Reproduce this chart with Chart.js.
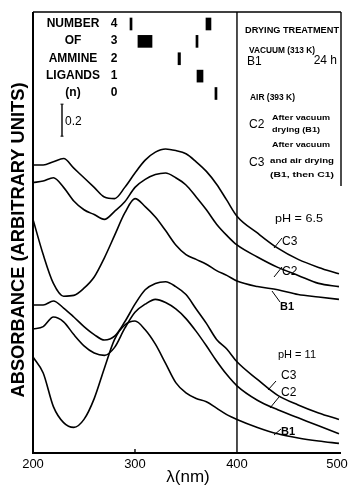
<!DOCTYPE html>
<html>
<head>
<meta charset="utf-8">
<title>Absorbance spectra</title>
<script src="https://cdn.jsdelivr.net/npm/chart.js@4.4.0/dist/chart.umd.min.js"></script>
<style>
  html, body { margin: 0; padding: 0; background: #fff; }
  #wrap { width: 350px; height: 485px; }
</style>
</head>
<body>
<div id="wrap"><canvas id="spectra" width="350" height="485"></canvas></div>
<script>
// wavelength grid (nm) shared by all spectra
const wavelengths = [200, 210, 220, 230, 240, 250, 260, 270, 280, 290, 300, 310, 320, 330, 340, 350, 360, 370, 380, 390, 400, 420, 440, 460, 480, 500];

// pH 6.5 spectra (arbitrary absorbance, offset)
const ph65C3 = [1.80, 1.80, 1.82, 1.84, 1.78, 1.72, 1.66, 1.60, 1.59, 1.66, 1.75, 1.83, 1.88, 1.90, 1.89, 1.87, 1.82, 1.76, 1.68, 1.58, 1.48, 1.375, 1.28, 1.21, 1.16, 1.12];
const ph65C2 = [1.69, 1.70, 1.72, 1.66, 1.575, 1.52, 1.49, 1.46, 1.51, 1.57, 1.66, 1.71, 1.74, 1.75, 1.72, 1.675, 1.60, 1.52, 1.43, 1.36, 1.30, 1.225, 1.16, 1.11, 1.06, 1.04];
const ph65B1 = [1.46, 1.24, 1.06, 0.98, 0.985, 1.03, 1.10, 1.22, 1.36, 1.50, 1.59, 1.54, 1.475, 1.39, 1.30, 1.24, 1.21, 1.18, 1.14, 1.11, 1.075, 1.04, 1.02, 0.99, 0.975, 0.96];

// pH 11 spectra
const ph11C3 = [0.925, 0.925, 0.95, 0.906, 0.85, 0.79, 0.74, 0.706, 0.73, 0.82, 0.93, 1.02, 1.06, 1.07, 1.04, 0.99, 0.90, 0.81, 0.71, 0.65, 0.57, 0.46, 0.36, 0.30, 0.25, 0.21];
const ph11C2 = [0.775, 0.79, 0.85, 0.82, 0.74, 0.67, 0.625, 0.61, 0.66, 0.78, 0.88, 0.93, 0.96, 0.94, 0.90, 0.84, 0.76, 0.67, 0.575, 0.49, 0.42, 0.33, 0.27, 0.22, 0.17, 0.12];
const ph11B1 = [0.60, 0.50, 0.29, 0.19, 0.16, 0.21, 0.34, 0.53, 0.71, 0.80, 0.825, 0.77, 0.68, 0.56, 0.44, 0.375, 0.34, 0.32, 0.28, 0.24, 0.21, 0.16, 0.12, 0.094, 0.075, 0.06];

// band positions for complexes with n ammine ligands (nm)
const ligandN = [4, 4, 3, 3, 2, 1, 0];
const bandFrom = [295.1, 369.6, 302.9, 359.8, 342.2, 360.8, 378.4];
const bandTo = [297.1, 374.5, 316.7, 361.8, 344.6, 366.7, 380.4];

const xTicks = [200, 300, 400, 500];
const scaleBarSize = 0.2;

const FONT = '"Liberation Sans", Arial, sans-serif';

function curve(values) {
  return {
    type: 'line',
    data: wavelengths.map((w, i) => ({ x: w, y: values[i] })),
    borderColor: '#000',
    borderWidth: 1.6,
    pointRadius: 0,
    cubicInterpolationMode: 'monotone',
    fill: false,
    xAxisID: 'x',
    yAxisID: 'y'
  };
}

function text(ctx, s, x, y, size, opt) {
  opt = opt || {};
  ctx.save();
  ctx.font = (opt.weight || 'bold') + ' ' + size + 'px ' + FONT;
  ctx.textBaseline = 'middle';
  ctx.textAlign = opt.align || 'left';
  ctx.translate(x, y);
  if (opt.rotate) ctx.rotate(opt.rotate);
  if (opt.width) {
    const w = ctx.measureText(s).width;
    ctx.scale(opt.width / w, 1);
  }
  ctx.fillText(s, 0, 0);
  ctx.restore();
}

function seg(ctx, x1, y1, x2, y2, lw) {
  ctx.lineWidth = lw || 1.2;
  ctx.beginPath();
  ctx.moveTo(x1, y1);
  ctx.lineTo(x2, y2);
  ctx.stroke();
}

const decorations = {
  id: 'decorations',
  afterDatasetsDraw(chart) {
    const ctx = chart.ctx;
    const xs = chart.scales.x, ys = chart.scales.y;
    const a = chart.chartArea;
    ctx.save();
    ctx.strokeStyle = '#000';
    ctx.fillStyle = '#000';
    ctx.lineCap = 'butt';

    // frame: axes, top edge, 400 nm divider, legend box edge
    seg(ctx, a.left, a.top, a.left, a.bottom, 2);
    seg(ctx, a.left - 1, a.bottom, a.right, a.bottom, 2);
    seg(ctx, a.left, a.top, a.right, a.top, 1.4);
    seg(ctx, xs.getPixelForValue(400), a.top, xs.getPixelForValue(400), a.bottom, 1.4);
    seg(ctx, a.right, a.top, a.right, 186, 1.4);
    seg(ctx, xs.getPixelForValue(300), a.bottom, xs.getPixelForValue(300), a.bottom - 4, 1.4);

    // x tick labels and title
    xTicks.forEach(t => text(ctx, String(t), Math.min(xs.getPixelForValue(t), 337), a.bottom + 11, 13, { align: 'center', weight: 'normal' }));
    text(ctx, 'λ(nm)', 188, 477, 17, { align: 'center', weight: 'normal' });

    // y title
    text(ctx, 'ABSORBANCE (ARBITRARY UNITS)', 19, 240, 18, { align: 'center', rotate: -Math.PI / 2, width: 315 });

    // ligand table
    const rows = chart.scales.rows;
    const words = ['NUMBER', 'OF', 'AMMINE', 'LIGANDS', '(n)'];
    [4, 3, 2, 1, 0].forEach((n, i) => {
      const y = rows.getPixelForValue(n) - 0.5;
      text(ctx, words[i], 73, y, 12, { align: 'center' });
      text(ctx, String(n), 114, y, 12, { align: 'center' });
    });

    // 0.2 absorbance scale bar
    const sbTop = ys.getPixelForValue(2.18);
    const sbBot = ys.getPixelForValue(2.18 - scaleBarSize);
    seg(ctx, 62, sbTop, 62, sbBot, 1.4);
    seg(ctx, 60.5, sbTop, 63.5, sbTop, 1);
    seg(ctx, 60.5, sbBot, 63.5, sbBot, 1);
    text(ctx, '0.2', 65, 122, 12, { weight: 'normal' });

    // drying treatment legend
    text(ctx, 'DRYING TREATMENT', 245, 31, 9, { width: 94 });
    text(ctx, 'VACUUM (313 K)', 249, 51, 8.5, { width: 66 });
    text(ctx, 'B1', 247, 62, 12, { weight: 'normal' });
    text(ctx, '24 h', 337, 61, 12, { weight: 'normal', align: 'right' });
    text(ctx, 'AIR (393 K)', 250, 98, 8.5, { width: 45 });
    text(ctx, 'C2', 249, 125, 12, { weight: 'normal' });
    text(ctx, 'After vacuum', 272, 118, 7.5, { width: 58 });
    text(ctx, 'drying (B1)', 272, 130, 7.5, { width: 48 });
    text(ctx, 'After vacuum', 272, 145, 7.5, { width: 58 });
    text(ctx, 'C3', 249, 163, 12, { weight: 'normal' });
    text(ctx, 'and air drying', 270, 161, 7.5, { width: 64 });
    text(ctx, '(B1, then C1)', 270, 175, 7.5, { width: 64 });

    // curve labels with leader lines
    text(ctx, 'pH = 6.5', 275, 219, 11, { weight: 'normal', width: 48 });
    text(ctx, 'C3', 282, 242, 12, { weight: 'normal' });
    seg(ctx, 274, 248, 282, 238, 1);
    text(ctx, 'C2', 282, 272, 12, { weight: 'normal' });
    seg(ctx, 274, 277, 282, 267, 1);
    text(ctx, 'B1', 280, 307, 11);
    seg(ctx, 272, 291, 280, 302, 1);

    text(ctx, 'pH = 11', 278, 355, 11, { weight: 'normal', width: 38 });
    text(ctx, 'C3', 281, 376, 12, { weight: 'normal' });
    seg(ctx, 268, 390, 276, 381, 1);
    text(ctx, 'C2', 281, 393, 12, { weight: 'normal' });
    seg(ctx, 270, 408, 279, 397, 1);
    text(ctx, 'B1', 281, 432, 11);
    seg(ctx, 274, 435, 281, 429, 1);

    ctx.restore();
  }
};

new Chart(document.getElementById('spectra'), {
  type: 'line',
  data: {
    datasets: [
      curve(ph65C3), curve(ph65C2), curve(ph65B1),
      curve(ph11C3), curve(ph11C2), curve(ph11B1),
      {
        type: 'bar',
        indexAxis: 'y',
        xAxisID: 'x',
        yAxisID: 'rows',
        data: ligandN.map((n, i) => ({ x: [bandFrom[i], bandTo[i]], y: n })),
        backgroundColor: '#000',
        borderWidth: 0,
        barThickness: 12,
        grouped: false
      }
    ]
  },
  options: {
    responsive: false,
    animation: false,
    devicePixelRatio: 1,
    layout: { padding: { left: 33, right: 9, top: 12, bottom: 32 } },
    plugins: { legend: { display: false }, tooltip: { enabled: false } },
    scales: {
      x: { type: 'linear', min: 200, max: 502, display: false, offset: false },
      y: { type: 'linear', min: 0, max: 2.756, display: false },
      // second vertical axis that places the ligand-number rows
      rows: { type: 'linear', axis: 'y', position: 'left', min: -20.69, max: 4.69, display: false, offset: false }
    }
  },
  plugins: [decorations]
});
</script>
</body>
</html>
